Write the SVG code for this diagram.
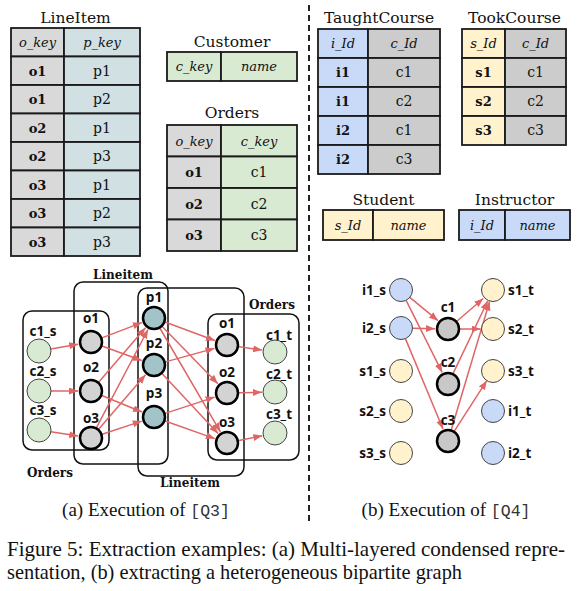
<svg xmlns="http://www.w3.org/2000/svg" width="585" height="591" viewBox="0 0 585 591">
<defs>
<marker id="ah" markerUnits="userSpaceOnUse" markerWidth="9" markerHeight="7" refX="9" refY="3.5" orient="auto"><path d="M0,0 L9,3.5 L0,7 z" fill="#e06666"/></marker>
<style>
.cell{stroke:#1a1a1a;stroke-width:1.8}
.gry{fill:#d9d9d9}.gr2{fill:#cccccc}.teal{fill:#d0e0e3}.grn{fill:#d9ead3}.blu{fill:#c9daf8}.yel{fill:#fff2cc}
.ttl{font-family:"DejaVu Serif",serif;font-size:15.5px;text-anchor:middle;fill:#111}
.hd{font-family:"DejaVu Serif",serif;font-size:13px;font-style:italic;text-anchor:middle;fill:#111}
.kb{font-family:"DejaVu Serif",serif;font-size:13px;font-weight:bold;text-anchor:middle;fill:#111}
.kv{font-family:"DejaVu Serif",serif;font-size:14px;text-anchor:middle;fill:#111}
.grp{fill:none;stroke:#111;stroke-width:1.5}
.glab{font-family:"DejaVu Serif",serif;font-size:12px;font-weight:bold;text-anchor:middle;fill:#111}
.nl{font-family:"Open Sans","DejaVu Sans",sans-serif;font-size:13.5px;font-weight:bold;text-anchor:middle;fill:#111}
.nlr{font-family:"Open Sans","DejaVu Sans",sans-serif;font-size:13.5px;font-weight:bold;text-anchor:end;fill:#111}
.nll{font-family:"Open Sans","DejaVu Sans",sans-serif;font-size:13.5px;font-weight:bold;text-anchor:start;fill:#111}
.thin{stroke:#444;stroke-width:1}
.thick{stroke:#000;stroke-width:2.5}
.ng{fill:#d9ead3}.no{fill:#d3d3d3}.np{fill:#a2c4c9}.nb{fill:#c9daf8}.ny{fill:#fff2cc}.nc{fill:#c8c8c8}
.e{stroke:#e06666;stroke-width:1.5;fill:none;marker-end:url(#ah)}
.cap{font-family:"Liberation Serif","Times New Roman",serif;font-size:21px;fill:#111}
.sub{font-family:"Liberation Serif","Times New Roman",serif;font-size:19px;fill:#111;text-anchor:middle}
.mono{font-family:"Liberation Mono",monospace;font-size:16.5px;fill:#333}
</style>
</defs>

<!-- LineItem table -->
<g id="t-lineitem">
<text class="ttl" x="75.5" y="23">LineItem</text>
<rect class="cell gry" x="11" y="28" width="53" height="28.5"/><rect class="cell teal" x="64" y="28" width="76" height="28.5"/>
<rect class="cell gry" x="11" y="56.5" width="53" height="28.5"/><rect class="cell teal" x="64" y="56.5" width="76" height="28.5"/>
<rect class="cell gry" x="11" y="85" width="53" height="28.5"/><rect class="cell teal" x="64" y="85" width="76" height="28.5"/>
<rect class="cell gry" x="11" y="113.5" width="53" height="28.5"/><rect class="cell teal" x="64" y="113.5" width="76" height="28.5"/>
<rect class="cell gry" x="11" y="142" width="53" height="28.5"/><rect class="cell teal" x="64" y="142" width="76" height="28.5"/>
<rect class="cell gry" x="11" y="170.5" width="53" height="28.5"/><rect class="cell teal" x="64" y="170.5" width="76" height="28.5"/>
<rect class="cell gry" x="11" y="199" width="53" height="28.5"/><rect class="cell teal" x="64" y="199" width="76" height="28.5"/>
<rect class="cell gry" x="11" y="227.5" width="53" height="28.5"/><rect class="cell teal" x="64" y="227.5" width="76" height="28.5"/>
<text class="hd" x="37.5" y="47">o_key</text><text class="hd" x="102" y="47">p_key</text>
<text class="kb" x="37.5" y="75.5">o1</text><text class="kv" x="102" y="75.5">p1</text>
<text class="kb" x="37.5" y="104">o1</text><text class="kv" x="102" y="104">p2</text>
<text class="kb" x="37.5" y="132.5">o2</text><text class="kv" x="102" y="132.5">p1</text>
<text class="kb" x="37.5" y="161">o2</text><text class="kv" x="102" y="161">p3</text>
<text class="kb" x="37.5" y="189.5">o3</text><text class="kv" x="102" y="189.5">p1</text>
<text class="kb" x="37.5" y="218">o3</text><text class="kv" x="102" y="218">p2</text>
<text class="kb" x="37.5" y="246.5">o3</text><text class="kv" x="102" y="246.5">p3</text>
</g>

<!-- Customer table -->
<g id="t-customer">
<text class="ttl" x="232" y="47">Customer</text>
<rect class="cell grn" x="167" y="52" width="54" height="29"/><rect class="cell grn" x="221" y="52" width="76" height="29"/>
<text class="hd" x="194" y="71">c_key</text><text class="hd" x="259" y="71">name</text>
</g>

<!-- Orders table -->
<g id="t-orders">
<text class="ttl" x="232" y="118">Orders</text>
<rect class="cell gry" x="167" y="125" width="54" height="31.5"/><rect class="cell grn" x="221" y="125" width="76" height="31.5"/>
<rect class="cell gry" x="167" y="156.5" width="54" height="31.5"/><rect class="cell grn" x="221" y="156.5" width="76" height="31.5"/>
<rect class="cell gry" x="167" y="188" width="54" height="31.5"/><rect class="cell grn" x="221" y="188" width="76" height="31.5"/>
<rect class="cell gry" x="167" y="219.5" width="54" height="31.5"/><rect class="cell grn" x="221" y="219.5" width="76" height="31.5"/>
<text class="hd" x="194" y="145.5">o_key</text><text class="hd" x="259" y="145.5">c_key</text>
<text class="kb" x="194" y="177">o1</text><text class="kv" x="259" y="177">c1</text>
<text class="kb" x="194" y="208.5">o2</text><text class="kv" x="259" y="208.5">c2</text>
<text class="kb" x="194" y="240">o3</text><text class="kv" x="259" y="240">c3</text>
</g>

<!-- TaughtCourse table -->
<g id="t-taught">
<text class="ttl" x="379" y="23">TaughtCourse</text>
<rect class="cell blu" x="318" y="29" width="50" height="29"/><rect class="cell gr2" x="368" y="29" width="72" height="29"/>
<rect class="cell blu" x="318" y="58" width="50" height="29"/><rect class="cell gr2" x="368" y="58" width="72" height="29"/>
<rect class="cell blu" x="318" y="87" width="50" height="29"/><rect class="cell gr2" x="368" y="87" width="72" height="29"/>
<rect class="cell blu" x="318" y="116" width="50" height="29"/><rect class="cell gr2" x="368" y="116" width="72" height="29"/>
<rect class="cell blu" x="318" y="145" width="50" height="29"/><rect class="cell gr2" x="368" y="145" width="72" height="29"/>
<text class="hd" x="343" y="48">i_Id</text><text class="hd" x="404" y="48">c_Id</text>
<text class="kb" x="343" y="77">i1</text><text class="kv" x="404" y="77">c1</text>
<text class="kb" x="343" y="106">i1</text><text class="kv" x="404" y="106">c2</text>
<text class="kb" x="343" y="135">i2</text><text class="kv" x="404" y="135">c1</text>
<text class="kb" x="343" y="164">i2</text><text class="kv" x="404" y="164">c3</text>
</g>

<!-- TookCourse table -->
<g id="t-took">
<text class="ttl" x="514.5" y="23">TookCourse</text>
<rect class="cell yel" x="462" y="29" width="43" height="29"/><rect class="cell gr2" x="505" y="29" width="61" height="29"/>
<rect class="cell yel" x="462" y="58" width="43" height="29"/><rect class="cell gr2" x="505" y="58" width="61" height="29"/>
<rect class="cell yel" x="462" y="87" width="43" height="29"/><rect class="cell gr2" x="505" y="87" width="61" height="29"/>
<rect class="cell yel" x="462" y="116" width="43" height="29"/><rect class="cell gr2" x="505" y="116" width="61" height="29"/>
<text class="hd" x="483.5" y="48">s_Id</text><text class="hd" x="535.5" y="48">c_Id</text>
<text class="kb" x="483.5" y="77">s1</text><text class="kv" x="535.5" y="77">c1</text>
<text class="kb" x="483.5" y="106">s2</text><text class="kv" x="535.5" y="106">c2</text>
<text class="kb" x="483.5" y="135">s3</text><text class="kv" x="535.5" y="135">c3</text>
</g>

<!-- Student table -->
<g id="t-student">
<text class="ttl" x="383.5" y="205">Student</text>
<rect class="cell yel" x="323" y="210" width="50" height="30"/><rect class="cell yel" x="373" y="210" width="71" height="30"/>
<text class="hd" x="348" y="229.5">s_Id</text><text class="hd" x="408.5" y="229.5">name</text>
</g>

<!-- Instructor table -->
<g id="t-instructor">
<text class="ttl" x="514.5" y="205">Instructor</text>
<rect class="cell blu" x="459" y="210" width="46" height="30"/><rect class="cell blu" x="505" y="210" width="65" height="30"/>
<text class="hd" x="482" y="229.5">i_Id</text><text class="hd" x="537.5" y="229.5">name</text>
</g>

<!-- separator -->
<line x1="309" y1="5" x2="309" y2="522" stroke="#222" stroke-width="2" stroke-dasharray="6,4"/>

<!-- group boxes (a) -->
<g id="groups">
<rect class="grp" x="23" y="311" width="86" height="139" rx="9"/>
<rect class="grp" x="74" y="282" width="94" height="182" rx="9"/>
<rect class="grp" x="138" y="288" width="106" height="188" rx="9"/>
<rect class="grp" x="208" y="314" width="91" height="146" rx="9"/>
<text class="glab" x="123" y="279">Lineitem</text>
<text class="glab" x="272" y="309">Orders</text>
<text class="glab" x="50" y="477">Orders</text>
<text class="glab" x="190" y="487">Lineitem</text>
</g>

<!-- connectors -->
<g id="connectors">
<line class="e" x1="50.8" y1="348.9" x2="78.2" y2="344.2"/>
<line class="e" x1="51" y1="391" x2="78" y2="391"/>
<line class="e" x1="50.9" y1="431.8" x2="78.2" y2="436"/>
<line class="e" x1="101.3" y1="338.1" x2="141.8" y2="322.6"/>
<line class="e" x1="101.3" y1="345.8" x2="141.8" y2="360.5"/>
<line class="e" x1="98.2" y1="382.7" x2="145.5" y2="327.8"/>
<line class="e" x1="101.2" y1="395.2" x2="142" y2="412"/>
<line class="e" x1="96.1" y1="428.3" x2="148" y2="329.5"/>
<line class="e" x1="98.2" y1="429.7" x2="145.5" y2="374.8"/>
<line class="e" x1="101.4" y1="434.5" x2="141.7" y2="421.1"/>
<line class="e" x1="164.3" y1="321.8" x2="214.8" y2="340.5"/>
<line class="e" x1="161.7" y1="325.9" x2="217.9" y2="383.7"/>
<line class="e" x1="159.5" y1="327.5" x2="220.4" y2="431.8"/>
<line class="e" x1="164.6" y1="362.1" x2="214.5" y2="348.4"/>
<line class="e" x1="161.5" y1="373" x2="218.1" y2="433.5"/>
<line class="e" x1="164.5" y1="413.6" x2="214.6" y2="397.1"/>
<line class="e" x1="164.4" y1="420.7" x2="214.8" y2="438.6"/>
<line class="e" x1="237.9" y1="346.6" x2="262.1" y2="350.1"/>
<line class="e" x1="238" y1="392.8" x2="262" y2="392.3"/>
<line class="e" x1="237.8" y1="440.8" x2="262.3" y2="435.7"/>
<line class="e" x1="409.8" y1="297.3" x2="438" y2="320.7"/>
<line class="e" x1="406.1" y1="300.3" x2="442.2" y2="372.4"/>
<line class="e" x1="412.5" y1="328.2" x2="435" y2="328.7"/>
<line class="e" x1="405.4" y1="338.6" x2="443" y2="429"/>
<line class="e" x1="456.3" y1="321.8" x2="483.2" y2="298.5"/>
<line class="e" x1="459" y1="329" x2="480.5" y2="329"/>
<line class="e" x1="452.8" y1="374.1" x2="487.8" y2="300.8"/>
<line class="e" x1="451.1" y1="430.5" x2="489.6" y2="301.5"/>
<line class="e" x1="454" y1="431.7" x2="486.8" y2="380.7"/>
</g>

<!-- nodes (a) -->
<g id="n-c1s"><circle class="ng thin" cx="39" cy="351" r="12"/><text class="nl" x="43" y="336">c1_s</text></g>
<g id="n-c2s"><circle class="ng thin" cx="39" cy="391" r="12"/><text class="nl" x="43" y="376">c2_s</text></g>
<g id="n-c3s"><circle class="ng thin" cx="39" cy="430" r="12"/><text class="nl" x="43" y="415">c3_s</text></g>
<g id="n-o1l"><circle class="no thick" cx="91" cy="342" r="11"/><text class="nl" x="91" y="323">o1</text></g>
<g id="n-o2l"><circle class="no thick" cx="91" cy="391" r="11"/><text class="nl" x="91" y="372">o2</text></g>
<g id="n-o3l"><circle class="no thick" cx="91" cy="438" r="11"/><text class="nl" x="91" y="423">o3</text></g>
<g id="n-p1"><circle class="np thick" cx="154" cy="318" r="11"/><text class="nl" x="154" y="302">p1</text></g>
<g id="n-p2"><circle class="np thick" cx="154" cy="365" r="11"/><text class="nl" x="154" y="348">p2</text></g>
<g id="n-p3"><circle class="np thick" cx="154" cy="417" r="11"/><text class="nl" x="154" y="398">p3</text></g>
<g id="n-o1r"><circle class="no thick" cx="227" cy="345" r="11"/><text class="nl" x="227" y="328">o1</text></g>
<g id="n-o2r"><circle class="no thick" cx="227" cy="393" r="11"/><text class="nl" x="227" y="377">o2</text></g>
<g id="n-o3r"><circle class="no thick" cx="227" cy="443" r="11"/><text class="nl" x="227" y="427">o3</text></g>
<g id="n-c1t"><circle class="ng thin" cx="275" cy="352" r="12"/><text class="nl" x="279" y="340">c1_t</text></g>
<g id="n-c2t"><circle class="ng thin" cx="275" cy="392" r="12"/><text class="nl" x="279" y="379">c2_t</text></g>
<g id="n-c3t"><circle class="ng thin" cx="275" cy="433" r="12"/><text class="nl" x="279" y="419">c3_t</text></g>

<!-- nodes (b) -->
<g id="n-i1s"><circle class="nb thin" cx="401" cy="290" r="11.5"/><text class="nlr" x="386" y="295">i1_s</text></g>
<g id="n-i2s"><circle class="nb thin" cx="401" cy="328" r="11.5"/><text class="nlr" x="386" y="333">i2_s</text></g>
<g id="n-s1s"><circle class="ny thin" cx="401" cy="371" r="11.5"/><text class="nlr" x="386" y="376">s1_s</text></g>
<g id="n-s2s"><circle class="ny thin" cx="401" cy="411" r="11.5"/><text class="nlr" x="386" y="416">s2_s</text></g>
<g id="n-s3s"><circle class="ny thin" cx="401" cy="453" r="11.5"/><text class="nlr" x="386" y="458">s3_s</text></g>
<g id="n-c1"><circle class="nc thick" cx="448" cy="329" r="11"/><text class="nl" x="448" y="312">c1</text></g>
<g id="n-c2"><circle class="nc thick" cx="448" cy="384" r="11"/><text class="nl" x="448" y="367">c2</text></g>
<g id="n-c3"><circle class="nc thick" cx="448" cy="441" r="11"/><text class="nl" x="448" y="425">c3</text></g>
<g id="n-s1t"><circle class="ny thin" cx="493" cy="290" r="11.5"/><text class="nll" x="508" y="295">s1_t</text></g>
<g id="n-s2t"><circle class="ny thin" cx="493" cy="329" r="11.5"/><text class="nll" x="508" y="334">s2_t</text></g>
<g id="n-s3t"><circle class="ny thin" cx="493" cy="371" r="11.5"/><text class="nll" x="508" y="376">s3_t</text></g>
<g id="n-i1t"><circle class="nb thin" cx="493" cy="411" r="11.5"/><text class="nll" x="508" y="416">i1_t</text></g>
<g id="n-i2t"><circle class="nb thin" cx="493" cy="453" r="11.5"/><text class="nll" x="508" y="458">i2_t</text></g>

<!-- captions -->
<text class="sub" x="146" y="516">(a) Execution of <tspan class="mono">[Q3]</tspan></text>
<text class="sub" x="446" y="516">(b) Execution of <tspan class="mono">[Q4]</tspan></text>
<text class="cap" x="7" y="556" textLength="558" lengthAdjust="spacing">Figure 5: Extraction examples: (a) Multi-layered condensed repre-</text>
<text class="cap" x="7" y="579" textLength="455" lengthAdjust="spacingAndGlyphs">sentation, (b) extracting a heterogeneous bipartite graph</text>
</svg>
